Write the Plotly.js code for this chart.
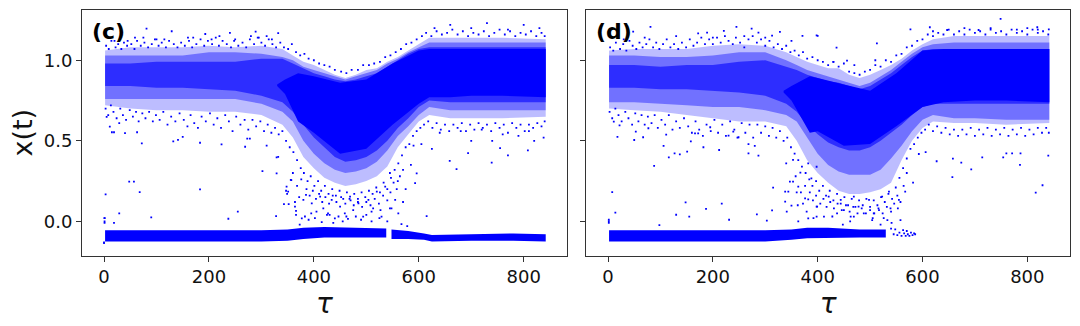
<!DOCTYPE html>
<html><head><meta charset="utf-8">
<script src="https://cdn.plot.ly/plotly-3.0.1.min.js"></script>
<style>html,body{margin:0;padding:0;background:#fff}</style></head>
<body><div id="chart" style="width:1080px;height:326px"></div>
<script>
// Envelope values: tau stations and x(t) limits of each density zone.
const tauBand = [2,50,100,150,200,250,300,340,360,380,400,420,440,460,480,500,520,540,560,580,600,620,660,700,760,842];
const cOuterHi = [1.06,1.08,1.08,1.08,1.09,1.08,1.09,1.07,1.03,0.99,0.97,0.94,0.91,0.89,0.91,0.94,0.95,0.99,1.02,1.06,1.10,1.14,1.14,1.14,1.14,1.13];
const cOuterLo = [0.72,0.70,0.69,0.69,0.68,0.68,0.66,0.60,0.52,0.40,0.33,0.27,0.24,0.22,0.23,0.25,0.28,0.34,0.46,0.54,0.62,0.66,0.64,0.64,0.64,0.65];
const cMidHi = [1.03,1.03,1.03,1.03,1.05,1.05,1.04,1.02,1.00,0.96,0.94,0.92,0.90,0.88,0.90,0.92,0.94,0.98,1.01,1.05,1.08,1.11,1.11,1.11,1.11,1.11];
const cMidLo = [0.76,0.76,0.76,0.76,0.76,0.76,0.73,0.68,0.62,0.50,0.42,0.36,0.32,0.30,0.31,0.33,0.37,0.44,0.53,0.59,0.66,0.71,0.69,0.69,0.69,0.69];
const cCoreHi = [0.98,0.98,0.99,0.99,0.99,0.99,1.01,1.01,0.98,0.95,0.92,0.90,0.88,0.87,0.88,0.90,0.92,0.96,1.00,1.04,1.07,1.08,1.08,1.08,1.08,1.08];
const cCoreLo = [0.84,0.84,0.83,0.83,0.82,0.81,0.78,0.74,0.68,0.60,0.52,0.46,0.40,0.37,0.38,0.40,0.44,0.50,0.58,0.64,0.71,0.75,0.74,0.74,0.74,0.74];
const dOuterHi = [1.06,1.07,1.07,1.07,1.09,1.10,1.09,1.05,1.02,0.99,0.97,0.95,0.95,0.91,0.89,0.91,0.94,0.97,1.01,1.06,1.10,1.13,1.15,1.15,1.15,1.15];
const dOuterLo = [0.70,0.69,0.68,0.66,0.64,0.62,0.62,0.59,0.50,0.38,0.30,0.24,0.19,0.17,0.17,0.18,0.20,0.24,0.38,0.50,0.58,0.62,0.61,0.61,0.60,0.61];
const dMidHi = [1.03,1.03,1.02,1.02,1.03,1.05,1.05,1.00,0.97,0.94,0.92,0.90,0.88,0.86,0.84,0.86,0.90,0.94,0.99,1.04,1.08,1.10,1.11,1.11,1.11,1.11];
const dMidLo = [0.74,0.74,0.73,0.72,0.71,0.71,0.69,0.66,0.62,0.52,0.42,0.35,0.31,0.29,0.29,0.29,0.32,0.39,0.47,0.56,0.63,0.66,0.64,0.64,0.63,0.63];
const dCoreHi = [0.97,0.97,0.96,0.97,0.97,0.99,1.00,0.96,0.94,0.91,0.89,0.87,0.86,0.84,0.82,0.84,0.88,0.92,0.97,1.02,1.06,1.07,1.07,1.07,1.07,1.07];
const dCoreLo = [0.83,0.83,0.82,0.82,0.81,0.80,0.78,0.73,0.68,0.60,0.54,0.49,0.46,0.44,0.44,0.46,0.50,0.55,0.60,0.66,0.71,0.73,0.73,0.73,0.73,0.73];

const tauSolidC = [330,345,370,400,450,500,550,600,620,660,700,760,842];
const cSolidHi = [0.85,0.88,0.92,0.90,0.86,0.88,0.98,1.06,1.07,1.07,1.07,1.07,1.07];
const cSolidLo = [0.84,0.79,0.62,0.55,0.42,0.45,0.60,0.73,0.77,0.77,0.78,0.78,0.77];
const tauSolidD = [335,350,385,400,450,500,550,600,640,700,760,842];
const dSolidHi = [0.81,0.84,0.90,0.89,0.85,0.81,0.92,1.06,1.07,1.07,1.07,1.07];
const dSolidLo = [0.80,0.75,0.55,0.56,0.47,0.48,0.59,0.71,0.74,0.75,0.75,0.74];

const tauLow = [2,100,200,300,350,380,420,480,538];
const lowCHi = [-0.055,-0.055,-0.055,-0.055,-0.05,-0.04,-0.035,-0.04,-0.045];
const lowCLo = [-0.125,-0.125,-0.125,-0.125,-0.12,-0.11,-0.10,-0.10,-0.10];
const tauLowC2 = [548,580,610,625,700,780,842];
const lowC2Hi = [-0.05,-0.06,-0.075,-0.085,-0.08,-0.075,-0.08];
const lowC2Lo = [-0.11,-0.11,-0.115,-0.125,-0.12,-0.12,-0.125];
const tauLowD = [2,100,200,300,350,380,420,480,530];
const lowDHi = [-0.055,-0.055,-0.055,-0.055,-0.05,-0.04,-0.04,-0.05,-0.05];
const lowDLo = [-0.125,-0.125,-0.125,-0.125,-0.115,-0.105,-0.105,-0.10,-0.10];

// Individual points.
const cPtsTau = [3,29,48,57,68,90,183,255,237,19,328,302,329,329,347,349,357,343,352,366,366,310,269,278,273,224,183,132,141,150,72,63,40,15,19,11,29,5,81,129,193,289,240,332,59,100,160,220,280,310,20,45,75,115,170,205,250,295,320,659,672,739,694,770,755,808,596,593,615,567,578,380,385,396,405,412,418,427,434,440,450,459,469,475,485,494,504,513,520,529,536,548,555,561,377,373,383,364,351,348,356,332,390,402,415,425,437,447,455,465,480,490,500,510,525,540,1,1,1,1,630,660,700,730,770,800,830,640,680,720,760,810,700,740,790,820,838,625,590,585,575,560,545,570,605,0,0];
const cPtsY = [0.167,0.05,0.246,0.246,0.182,0.025,0.199,0.06,0.016,-0.01,0.033,0.312,0.298,0.397,0.19,0.17,0.256,0.107,0.107,0.065,0.04,0.47,0.463,0.513,0.513,0.478,0.488,0.497,0.506,0.525,0.484,0.553,0.548,0.553,0.553,0.588,0.61,0.648,1.196,1.18,1.163,1.178,1.17,1.168,1.14,1.13,1.14,1.15,1.15,1.15,1.12,1.12,1.14,1.13,1.14,1.13,1.13,1.14,1.13,0.375,0.324,0.364,0.424,0.41,0.455,0.44,0.298,0.237,0.033,-0.017,-0.03,0.133,0.164,0.112,0.06,0.153,0.081,0.05,0.133,0.019,0.091,0.05,0.153,0.07,0.112,0.029,0.133,0.081,0.184,0.029,0.215,0.081,0.133,0.05,0.019,-0.02,0.03,0.091,0.184,0.215,0.257,0.4,0.01,0.02,-0.005,0.04,-0.01,0.03,0.0,0.015,0.03,0.01,0.04,0.0,0.02,0.0,0.02,0.0,-0.01,0.02,1.2,1.22,1.2,1.23,1.19,1.22,1.2,0.55,0.56,0.57,0.54,0.56,0.5,0.5,0.53,0.5,0.52,0.45,0.47,0.35,0.2,0.25,0.3,0.12,0.48,-0.13,-0.135];
const dPtsTau = [8,14,1.5,1.5,1.5,88,116,127,137,151,148,155,130,187,217,231,284,313,303,315,98,268,287,212,182,158,106,50,67,18,22,11,53,77,111,166,172,195,230,239,249,280,268,81,48,172,189,221,245,274,287,313,328,371,398,340,353,347,363,338,344,360,376,382,338,350,398,379,382,363,341,398,367,388,398,382,353,577,614,749,647,707,800,819,841,513,436,400,456,829,816,840,657,693,627,658,674,714,754,760,771,786,787,606,593,582,567,558,555,553,399,412,421,437,444,450,463,469,478,488,498,507,517,523,536,539,533,504,469,545,552,556,560,565,568,572,575,578,581,584,586,540,548,563,570,30,70,130,200,260,300,350,620,680,730,780,820,430,470,510];
const dPtsY = [0.182,0.054,0.01,0.0,-0.01,0.344,0.397,0.422,0.416,0.433,0.118,0.029,0.041,0.077,0.11,0.01,0.043,0.068,0.004,0.209,-0.023,0.422,0.408,0.443,0.46,0.497,0.468,0.505,0.522,0.524,0.596,0.619,0.557,0.578,0.538,0.546,0.546,0.584,0.532,0.557,0.522,0.468,0.48,1.207,1.178,1.167,1.172,1.182,1.207,1.196,1.172,1.153,1.176,1.151,1.155,0.36,0.246,0.246,0.215,0.184,0.184,0.18,0.143,0.137,0.122,0.097,0.091,0.06,0.019,0.0,0.06,0.029,0.302,0.267,0.339,0.36,0.381,1.192,1.205,1.257,1.188,1.188,1.2,1.205,1.192,1.105,1.078,1.151,0.998,0.224,0.178,0.408,0.275,0.323,0.373,0.389,0.364,0.397,0.397,0.422,0.422,0.35,0.422,0.43,0.418,0.24,0.184,0.008,0.133,0.081,0.091,0.029,0.153,0.05,0.133,0.07,0.029,0.153,0.091,0.05,0.133,0.05,0.07,0.153,0.184,0.081,0.008,0.008,0.029,-0.08,-0.085,-0.07,-0.09,-0.075,-0.09,-0.08,-0.09,-0.07,-0.085,-0.075,-0.08,-0.045,-0.05,-0.055,-0.06,1.13,1.14,1.15,1.14,1.15,1.14,1.12,1.18,1.2,1.2,1.19,1.19,0.99,0.97,1.0];

// Further estimated points along the speckled edges and in the fan below the dip.
const cEdgePairs = [[4,1.09],[9,1.07],[14,1.12],[22,1.08],[27,1.1],[33,1.07],[38,1.11],[44,1.09],[52,1.1],[58,1.07],[63,1.12],[70,1.09],[77,1.11],[84,1.08],[91,1.1],[97,1.13],[104,1.09],[110,1.11],[118,1.08],[124,1.12],[133,1.1],[140,1.08],[147,1.11],[154,1.09],[162,1.12],[168,1.08],[176,1.1],[184,1.13],[191,1.09],[198,1.12],[206,1.1],[213,1.14],[219,1.09],[226,1.12],[234,1.1],[242,1.08],[248,1.12],[256,1.09],[264,1.11],[271,1.08],[278,1.13],[286,1.1],[293,1.14],[300,1.11],[307,1.09],[314,1.13],[321,1.1],[328,1.08],[336,1.11],[343,1.08],[351,1.07],[358,1.1],[366,1.05],[374,1.03],[382,1.04],[390,1.01],[400,1.0],[410,0.98],[420,0.97],[430,0.96],[440,0.94],[452,0.93],[462,0.92],[472,0.94],[484,0.94],[494,0.97],[505,0.97],[515,0.98],[526,0.99],[536,1.02],[546,1.03],[556,1.05],[566,1.07],[576,1.1],[586,1.11],[596,1.13],[606,1.15],[614,1.17],[624,1.15],[634,1.18],[644,1.16],[654,1.17],[664,1.19],[674,1.16],[684,1.18],[694,1.15],[704,1.17],[714,1.16],[724,1.18],[734,1.15],[744,1.17],[754,1.19],[764,1.16],[774,1.18],[784,1.15],[794,1.17],[804,1.16],[814,1.18],[824,1.15],[834,1.17],[840,1.15],
[3,0.7],[8,0.66],[13,0.72],[18,0.68],[24,0.64],[31,0.7],[36,0.66],[42,0.63],[49,0.69],[55,0.65],[61,0.68],[66,0.62],[73,0.67],[79,0.64],[86,0.68],[93,0.62],[99,0.66],[106,0.63],[113,0.68],[121,0.6],[128,0.65],[136,0.62],[144,0.67],[152,0.63],[159,0.59],[165,0.66],[172,0.61],[179,0.58],[186,0.65],[194,0.62],[202,0.67],[209,0.6],[216,0.64],[223,0.58],[231,0.66],[238,0.62],[245,0.56],[252,0.65],[260,0.6],[268,0.63],[275,0.57],[283,0.63],[290,0.59],[298,0.62],[305,0.56],[312,0.6],[319,0.55],[326,0.58],[333,0.54],[340,0.56],[347,0.5],[354,0.46],[361,0.43],[368,0.38],[375,0.33],[381,0.3],[388,0.25],[394,0.28],[401,0.22],[408,0.25],[414,0.19],[421,0.22],[428,0.17],[435,0.2],[442,0.16],[449,0.19],[456,0.14],[463,0.18],[470,0.13],[477,0.17],[484,0.14],[491,0.18],[498,0.15],[505,0.19],[512,0.17],[519,0.21],[526,0.18],[533,0.24],[540,0.2],[547,0.27],[554,0.32],[561,0.36],[568,0.41],[575,0.46],[582,0.48],[589,0.53],[596,0.56],[603,0.58],[610,0.6],[618,0.62],[626,0.58],[634,0.61],[642,0.57],[650,0.6],[658,0.56],[666,0.6],[674,0.58],[682,0.61],[690,0.56],[698,0.6],[706,0.57],[714,0.61],[722,0.58],[730,0.6],[738,0.56],[746,0.61],[754,0.58],[762,0.6],[770,0.55],[778,0.61],[786,0.58],[794,0.6],[802,0.56],[810,0.6],[818,0.58],[826,0.61],[834,0.59],[840,0.62],
[386,0.2],[392,0.16],[398,0.19],[404,0.14],[410,0.17],[416,0.12],[422,0.15],[429,0.11],[436,0.16],[443,0.12],[452,0.15],[460,0.11],[468,0.14],[476,0.1],[484,0.12],[492,0.09],[500,0.12],[508,0.1],[516,0.14],[524,0.11],[532,0.16],[540,0.13],[546,0.18],[552,0.24],[558,0.2],[564,0.28],[570,0.32],[368,0.22],[372,0.15],[376,0.26],[360,0.3],[364,0.12],[395,0.05],[430,0.04],[462,0.03],[510,0.06],[527,0.07],[545,0.08]];
const dEdgePairs = [[4,1.08],[10,1.06],[15,1.11],[23,1.07],[29,1.1],[35,1.06],[41,1.12],[47,1.09],[54,1.07],[60,1.11],[66,1.08],[73,1.1],[79,1.13],[86,1.08],[92,1.11],[98,1.07],[105,1.1],[112,1.13],[119,1.08],[126,1.1],[134,1.07],[141,1.11],[149,1.08],[156,1.13],[163,1.09],[170,1.11],[178,1.14],[185,1.1],[193,1.13],[200,1.1],[208,1.14],[215,1.11],[223,1.15],[230,1.12],[238,1.1],[244,1.14],[252,1.11],[260,1.08],[268,1.13],[276,1.15],[284,1.11],[292,1.13],[300,1.09],[308,1.12],[316,1.08],[324,1.1],[332,1.07],[340,1.09],[348,1.05],[356,1.06],[364,1.03],[372,1.05],[380,1.01],[390,1.02],[400,1.0],[410,0.99],[420,0.97],[430,0.99],[440,0.96],[450,0.98],[460,0.93],[470,0.92],[480,0.91],[490,0.93],[500,0.94],[510,0.97],[520,0.96],[530,1.0],[540,0.99],[550,1.03],[560,1.04],[570,1.08],[580,1.09],[590,1.12],[600,1.13],[610,1.16],[620,1.15],[630,1.17],[640,1.16],[650,1.19],[660,1.16],[670,1.18],[680,1.16],[690,1.19],[700,1.17],[710,1.18],[720,1.16],[730,1.19],[740,1.17],[750,1.18],[760,1.16],[770,1.19],[780,1.17],[790,1.18],[800,1.16],[810,1.19],[820,1.17],[830,1.18],[840,1.16],
[3,0.68],[8,0.64],[14,0.7],[20,0.66],[26,0.62],[33,0.68],[39,0.64],[46,0.6],[52,0.67],[58,0.62],[64,0.66],[70,0.6],[76,0.65],[83,0.61],[89,0.66],[95,0.58],[102,0.63],[109,0.6],[116,0.66],[123,0.57],[130,0.62],[137,0.58],[145,0.64],[153,0.59],[160,0.55],[167,0.62],[174,0.57],[181,0.53],[188,0.6],[196,0.56],[203,0.63],[210,0.55],[218,0.6],[225,0.53],[233,0.62],[241,0.57],[247,0.52],[255,0.61],[262,0.55],[270,0.6],[277,0.52],[285,0.6],[292,0.55],[300,0.59],[307,0.53],[314,0.58],[321,0.52],[328,0.56],[335,0.5],[342,0.52],[349,0.46],[356,0.42],[363,0.38],[370,0.34],[377,0.3],[384,0.26],[390,0.22],[397,0.25],[403,0.19],[410,0.22],[416,0.16],[423,0.19],[430,0.13],[437,0.17],[444,0.11],[451,0.15],[458,0.1],[465,0.14],[472,0.09],[479,0.13],[486,0.1],[493,0.14],[500,0.09],[507,0.13],[514,0.1],[521,0.15],[528,0.12],[535,0.17],[542,0.14],[549,0.21],[556,0.27],[563,0.33],[570,0.39],[577,0.45],[584,0.48],[591,0.52],[598,0.55],[605,0.57],[612,0.6],[620,0.56],[628,0.59],[636,0.55],[644,0.58],[652,0.54],[660,0.57],[668,0.53],[676,0.57],[684,0.54],[692,0.58],[700,0.53],[708,0.57],[716,0.54],[724,0.58],[732,0.53],[740,0.57],[748,0.54],[756,0.58],[764,0.53],[772,0.57],[780,0.54],[788,0.58],[796,0.53],[804,0.57],[812,0.54],[820,0.58],[828,0.55],[836,0.58],[841,0.55],
[385,0.18],[391,0.13],[397,0.16],[405,0.11],[411,0.14],[417,0.09],[424,0.12],[431,0.08],[438,0.11],[446,0.07],[454,0.1],[461,0.06],[468,0.09],[476,0.05],[484,0.08],[492,0.05],[500,0.07],[508,0.05],[516,0.08],[524,0.05],[532,0.09],[540,0.06],[546,0.11],[552,0.16],[558,0.12],[564,0.22],[570,0.3],[368,0.18],[372,0.11],[376,0.22],[358,0.28],[362,0.1],[392,0.02],[428,0.03],[462,0.0],[505,0.02],[526,0.02],[541,-0.01],[520,-0.02],[448,-0.02]];

const tickTau = [0,200,400,600,800];
const tickX = [0,0.5,1];
const BLUE = '#0000ff';

function band(tau, hi, lo, alpha, xa, ya) {
  return {type:'scatter', mode:'lines', x: tau.concat(tau.slice().reverse()),
    y: hi.concat(lo.slice().reverse()), fill:'toself', fillcolor:BLUE, opacity:alpha,
    line:{width:0}, hoverinfo:'skip', showlegend:false, xaxis:xa, yaxis:ya};
}
function pts(x, y, xa, ya) {
  return {type:'scatter', mode:'markers', x, y, xaxis:xa, yaxis:ya, showlegend:false, hoverinfo:'skip',
    marker:{symbol:'square', size:1.8, color:BLUE, line:{width:0}}};
}
const data = [
  band(tauBand,cOuterHi,cOuterLo,0.26,'x','y'),
  band(tauBand,cMidHi,cMidLo,0.4,'x','y'),
  band(tauBand,cCoreHi,cCoreLo,0.6,'x','y'),
  band(tauSolidC,cSolidHi,cSolidLo,1,'x','y'),
  band(tauLow,lowCHi,lowCLo,1,'x','y'),
  band(tauLowC2,lowC2Hi,lowC2Lo,1,'x','y'),
  pts(cPtsTau,cPtsY,'x','y'),
  pts(cEdgePairs.map(p=>p[0]),cEdgePairs.map(p=>p[1]),'x','y'),
  band(tauBand,dOuterHi,dOuterLo,0.26,'x2','y2'),
  band(tauBand,dMidHi,dMidLo,0.4,'x2','y2'),
  band(tauBand,dCoreHi,dCoreLo,0.6,'x2','y2'),
  band(tauSolidD,dSolidHi,dSolidLo,1,'x2','y2'),
  band(tauLowD,lowDHi,lowDLo,1,'x2','y2'),
  pts(dPtsTau,dPtsY,'x2','y2'),
  pts(dEdgePairs.map(p=>p[0]),dEdgePairs.map(p=>p[1]),'x2','y2')
];
const F = 'DejaVu Sans';
const xBase = {range:[-42,882], tickvals:tickTau, ticktext:tickTau.map(String), ticks:'outside', ticklen:5, tickwidth:1,
  tickcolor:'#333', showgrid:false, zeroline:false, showline:true, mirror:true, linecolor:'#333', linewidth:1,
  tickfont:{family:F,size:18,color:'#111'}, title:{text:'<i>τ</i>', font:{family:F,size:28,color:'#111'}, standoff:1}};
const yBase = {range:[-0.212,1.312], tickvals:tickX, ticktext:tickX.map(v=>v.toFixed(1)), ticks:'outside', ticklen:5, tickwidth:1,
  tickcolor:'#333', showgrid:false, zeroline:false, showline:true, mirror:true, linecolor:'#333', linewidth:1,
  tickfont:{family:F,size:18,color:'#111'}, domain:[1-255.5/326,1-10/326]};
const layout = {
  width:1080, height:326, margin:{l:0,r:0,t:0,b:0}, paper_bgcolor:'#fff', plot_bgcolor:'#fff', showlegend:false,
  xaxis:Object.assign({},xBase,{domain:[82/1080,566.7/1080],anchor:'y'}),
  xaxis2:Object.assign({},xBase,{domain:[586/1080,1070.3/1080],anchor:'y2'}),
  yaxis:Object.assign({},yBase,{anchor:'x',title:{text:'x(t)',font:{family:F,size:27,color:'#111'},standoff:3}}),
  yaxis2:Object.assign({},yBase,{anchor:'x2',showticklabels:false}),
  annotations:[
    {text:'<b>(c)</b>',xref:'paper',yref:'paper',x:90/1080,y:1-32/326,xanchor:'left',yanchor:'middle',showarrow:false,font:{family:F,size:22,color:'#000'}},
    {text:'<b>(d)</b>',xref:'paper',yref:'paper',x:594/1080,y:1-32/326,xanchor:'left',yanchor:'middle',showarrow:false,font:{family:F,size:22,color:'#000'}}
  ]
};
Plotly.newPlot('chart',data,layout,{staticPlot:true,displayModeBar:false});
</script></body></html>
